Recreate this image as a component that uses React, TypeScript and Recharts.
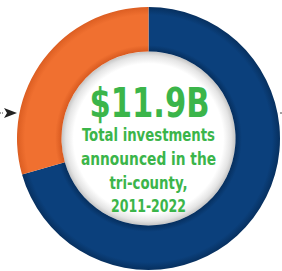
import React from "react";
import { PieChart, Pie, Cell, Customized } from "recharts";

const categories = ["Blue share", "Orange share"];
const values = [8.4, 3.5];
const colors = ["#0b407c", "#f07030"];
const headline = "$11.9B";
const captionLines = ["Total investments", "announced in the", "tri-county,", "2011-2022"];

const data = categories.map((name, i) => ({ name, value: values[i] }));

const CX = 148.5;
const CY = 138.5;
const R_OUT = 131.5;
const R_IN = 87;

const FONT = "'Liberation Sans Narrow', 'DejaVu Sans Condensed', 'Arial Narrow', sans-serif";
const GREEN = "#3bb54a";

const captionLayout = [
  { y: 141, w: 133 },
  { y: 165, w: 135 },
  { y: 189, w: 78 },
  { y: 212, w: 75 },
];

const Overlay = () => (
  <g>
    <circle cx={CX} cy={CY} r={R_IN} fill="url(#centerGrad)" />
    <text
      x={CX + 1}
      y={117}
      textAnchor="middle"
      fontFamily={FONT}
      fontWeight="bold"
      fontSize={40}
      fill={GREEN}
      textLength={120}
      lengthAdjust="spacingAndGlyphs"
    >
      {headline}
    </text>
    {captionLines.map((t, i) => (
      <text
        key={t}
        x={CX}
        y={captionLayout[i].y}
        textAnchor="middle"
        fontFamily={FONT}
        fontWeight="bold"
        fontSize={18.5}
        fill={GREEN}
        textLength={captionLayout[i].w}
        lengthAdjust="spacingAndGlyphs"
      >
        {t}
      </text>
    ))}
    <polygon points="4,108 17,113 4,118 7,113" fill="#222" />
    <line x1={0} y1={113} x2={4} y2={113} stroke="#444" strokeWidth={1} strokeDasharray="1 1" />
    <line x1={280} y1={113} x2={282} y2={113} stroke="#444" strokeWidth={1} />
  </g>
);

export default function App() {
  return (
    <div style={{ position: "fixed", left: 0, top: 0, width: 282, height: 271, background: "#fff" }}>
      <PieChart width={282} height={271} margin={{ top: 0, right: 0, bottom: 0, left: 0 }}>
        <defs>
          {colors.map((c, i) => (
            <radialGradient
              key={c}
              id={`ring${i}`}
              gradientUnits="userSpaceOnUse"
              cx={CX}
              cy={CY}
              r={R_OUT}
            >
              <stop offset={R_IN / R_OUT} stopColor={i === 0 ? "#062f5e" : "#d85a20"} />
              <stop offset={0.71} stopColor={c} />
              <stop offset={0.94} stopColor={c} />
              <stop offset={1} stopColor={i === 0 ? "#07305f" : "#dc5e22"} />
            </radialGradient>
          ))}
          <radialGradient id="centerGrad" gradientUnits="userSpaceOnUse" cx={CX} cy={CY} r={R_IN}>
            <stop offset={0} stopColor="#ffffff" />
            <stop offset={0.86} stopColor="#ffffff" />
            <stop offset={0.95} stopColor="#e4e4e4" />
            <stop offset={1} stopColor="#c4c4c4" />
          </radialGradient>
        </defs>
        <Pie
          data={data}
          dataKey="value"
          cx={CX}
          cy={CY}
          innerRadius={R_IN}
          outerRadius={R_OUT}
          startAngle={90}
          endAngle={-270}
          stroke="none"
          isAnimationActive={false}
        >
          {data.map((d, i) => (
            <Cell key={d.name} fill={`url(#ring${i})`} />
          ))}
        </Pie>
        <Customized component={Overlay} />
      </PieChart>
    </div>
  );
}
